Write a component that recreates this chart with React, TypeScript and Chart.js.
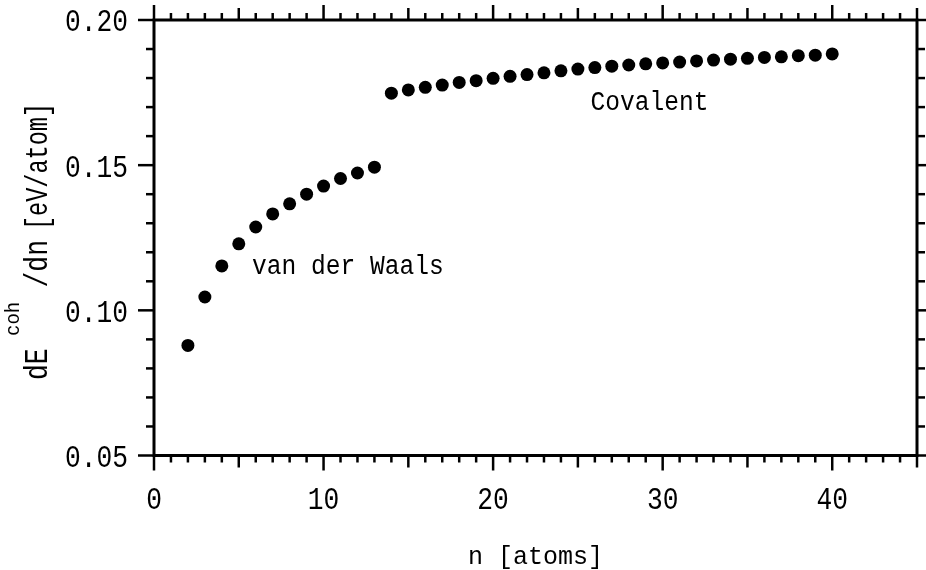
import React, { useEffect, useRef } from "react";
import { Chart, registerables } from "chart.js";

Chart.register(...registerables);

// ---------- data ----------
const atomCounts = [
  2, 3, 4, 5, 6, 7, 8, 9, 10, 11, 12, 13, 14, 15, 16, 17, 18, 19, 20, 21,
  22, 23, 24, 25, 26, 27, 28, 29, 30, 31, 32, 33, 34, 35, 36, 37, 38, 39, 40,
];
const cohesiveSlope = [
  0.0879, 0.1046, 0.1153, 0.1229, 0.1287, 0.1332, 0.1367, 0.14, 0.1428,
  0.1454, 0.1473, 0.1493, 0.1748, 0.1759, 0.1768, 0.1776, 0.1785, 0.1791,
  0.1799, 0.1806, 0.1812, 0.1818, 0.1825, 0.1831, 0.1836, 0.1841, 0.1845,
  0.1849, 0.1852, 0.1855, 0.1859, 0.1862, 0.1865, 0.1868, 0.1871, 0.1873,
  0.1877, 0.1879, 0.1883,
];
const xTickValues = [0, 10, 20, 30, 40];
const yTickValues = [0.05, 0.1, 0.15, 0.2];
const xRange = [0, 45];
const yRange = [0.05, 0.2];
const xTitle = "n [atoms]";
const yTitleMain = "dE";
const yTitleSup = "coh";
const yTitleRest = "/dn";
const yTitleUnit = "[eV/atom]";
const annotationTexts = ["van der Waals", "Covalent"];
const annotationX = [5.78, 25.75];
const annotationY = [0.1124, 0.169];

// ---------- style ----------
const FONT = '"Liberation Mono", "Courier New", monospace';
const TICK_SX = 0.82;

function drawText(
  ctx: CanvasRenderingContext2D,
  text: string,
  x: number,
  y: number,
  size: number,
  sx: number,
  align: CanvasTextAlign
) {
  ctx.save();
  ctx.font = `${size}px ${FONT}`;
  ctx.textAlign = align;
  ctx.textBaseline = "alphabetic";
  ctx.fillStyle = "#000";
  ctx.translate(x, y);
  ctx.scale(sx, 1);
  ctx.fillText(text, 0, 0);
  ctx.restore();
}

const framePlugin = {
  id: "framePlugin",
  beforeDraw(chart: any) {
    const ctx = chart.ctx as any;
    if (!ctx.__origFill) ctx.__origFill = ctx.fillText;
    const orig = ctx.__origFill;
    ctx.fillText = function (t: string, x: number, y: number, mw?: number) {
      this.save();
      this.translate(x, y);
      this.scale(TICK_SX, 1);
      if (mw === undefined) orig.call(this, t, 0, 0);
      else orig.call(this, t, 0, 0, mw / TICK_SX);
      this.restore();
    };
  },
  afterDraw(chart: any) {
    const ctx = chart.ctx as any;
    if (ctx.__origFill) ctx.fillText = ctx.__origFill;
    const { left, right, top, bottom } = chart.chartArea;
    const xs = chart.scales.x;
    const ys = chart.scales.y;
    ctx.save();
    ctx.strokeStyle = "#000";
    ctx.lineCap = "butt";
    ctx.lineWidth = 2.5;
    const seg = (x1: number, y1: number, x2: number, y2: number) => {
      ctx.beginPath();
      ctx.moveTo(x1, y1);
      ctx.lineTo(x2, y2);
      ctx.stroke();
    };
    for (let v = xRange[0]; v <= xRange[1]; v++) {
      const px = xs.getPixelForValue(v);
      const len = v % 10 === 0 ? 15 : v % 5 === 0 ? 12 : 7;
      seg(px, bottom, px, bottom + len);
      seg(px, top, px, top - len);
    }
    const nY = Math.round((yRange[1] - yRange[0]) / 0.01);
    for (let i = 0; i <= nY; i++) {
      const py = ys.getPixelForValue(yRange[0] + i * 0.01);
      const len = i % 5 === 0 ? 16 : 8;
      seg(left - len, py, left, py);
      seg(right, py, right + len, py);
    }
    ctx.lineWidth = 3;
    ctx.strokeRect(left, top, right - left, bottom - top);
    ctx.restore();

    // annotations
    annotationTexts.forEach((t, i) => {
      drawText(
        ctx,
        t,
        xs.getPixelForValue(annotationX[i]),
        ys.getPixelForValue(annotationY[i]),
        27,
        0.91,
        "left"
      );
    });

    // x title
    drawText(ctx, xTitle, (left + right) / 2, 564, 25, 1, "center");

    // y title (rotated, with superscript)
    ctx.save();
    ctx.translate(47, 380);
    ctx.rotate(-Math.PI / 2);
    const mainSx = 0.8;
    drawText(ctx, yTitleMain, 0, 0, 33, mainSx, "left");
    drawText(ctx, yTitleSup, 44, -28, 20, 0.95, "left");
    drawText(ctx, yTitleRest, 140, 0, 33, mainSx, "right");
    drawText(ctx, yTitleUnit, 277, 0, 32, 0.735, "right");
    ctx.restore();
  },
};

export default function App() {
  const canvasRef = useRef<HTMLCanvasElement | null>(null);

  useEffect(() => {
    const canvas = canvasRef.current;
    if (!canvas) return;
    const points = atomCounts.map((n, i) => ({ x: n, y: cohesiveSlope[i] }));
    const chart = new Chart(canvas, {
      type: "scatter",
      data: {
        datasets: [
          {
            label: "dE/dn",
            data: points,
            backgroundColor: "#000",
            borderColor: "#000",
            borderWidth: 0,
            pointRadius: 6.5,
            pointHoverRadius: 6.5,
            showLine: false,
          },
        ],
      },
      options: {
        responsive: false,
        animation: false,
        events: [],
        layout: { padding: { top: 20, right: 9, left: 0, bottom: 0 } },
        plugins: {
          legend: { display: false },
          tooltip: { enabled: false },
        },
        scales: {
          x: {
            type: "linear",
            min: xRange[0],
            max: xRange[1],
            grid: { display: false, drawTicks: false },
            border: { display: false },
            afterBuildTicks: (s: any) => {
              s.ticks = xTickValues.map((v) => ({ value: v }));
            },
            afterFit: (s: any) => {
              s.height = 114.5;
              s.paddingLeft = 0;
              s.paddingRight = 0;
              s.paddingTop = 0;
              s.paddingBottom = 0;
            },
            ticks: {
              padding: 26,
              maxRotation: 0,
              autoSkip: false,
              color: "#000",
              font: { family: FONT, size: 32 },
              callback: (v: any) => String(v),
            },
          },
          y: {
            type: "linear",
            min: yRange[0],
            max: yRange[1],
            grid: { display: false, drawTicks: false },
            border: { display: false },
            afterBuildTicks: (s: any) => {
              s.ticks = yTickValues.map((v) => ({ value: v }));
            },
            afterFit: (s: any) => {
              s.width = 154;
              s.paddingLeft = 0;
              s.paddingRight = 0;
              s.paddingTop = 0;
              s.paddingBottom = 0;
            },
            ticks: {
              padding: 26,
              labelOffset: 3,
              autoSkip: false,
              color: "#000",
              font: { family: FONT, size: 32 },
              callback: (v: any) => Number(v).toFixed(2),
            },
          },
        },
      },
      plugins: [framePlugin],
    });
    return () => {
      const ctx = canvas.getContext("2d") as any;
      if (ctx && ctx.__origFill) ctx.fillText = ctx.__origFill;
      chart.destroy();
    };
  }, []);

  return (
    <div
      style={{
        position: "absolute",
        left: 0,
        top: 0,
        width: 926,
        height: 570,
        background: "#fff",
      }}
    >
      <canvas
        ref={canvasRef}
        width={926}
        height={570}
        style={{ display: "block", width: 926, height: 570 }}
      />
    </div>
  );
}
